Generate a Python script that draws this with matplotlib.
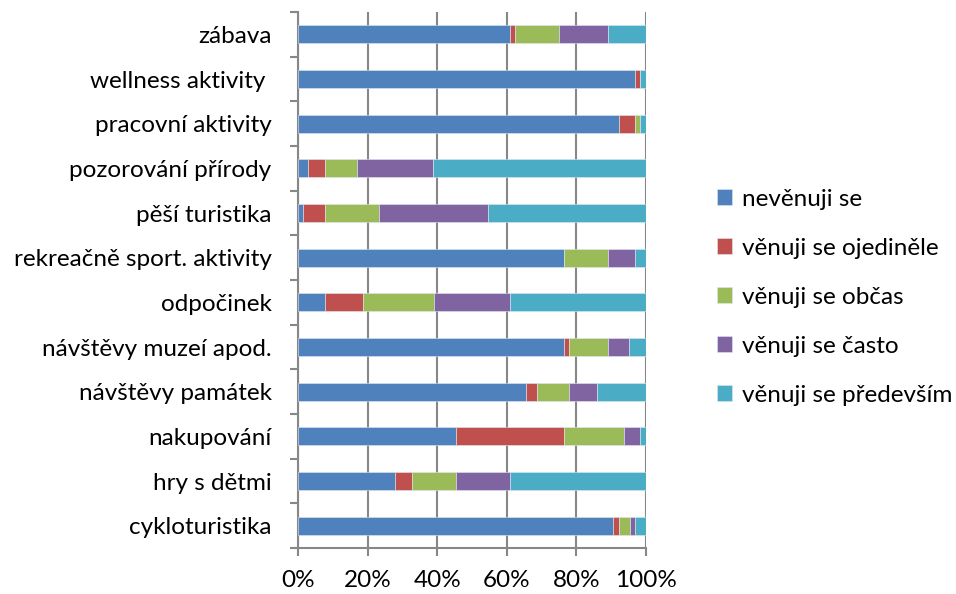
import numpy as np
import matplotlib.pyplot as plt

plt.rcParams['font.family'] = ['Lato', 'DejaVu Sans']

# aktivity (odspodu nahoru)
aktivity = ['cykloturistika', 'hry s dětmi', 'nakupování', 'návštěvy památek',
            'návštěvy muzeí apod.', 'odpočinek', 'rekreačně sport. aktivity',
            'pěší turistika', 'pozorování přírody', 'pracovní aktivity',
            'wellness aktivity ', 'zábava']

kategorie = ['nevěnuji se', 'věnuji se ojediněle', 'věnuji se občas',
             'věnuji se často', 'věnuji se především']

# podíly v % pro jednotlivé kategorie
nevenuji = [90.6, 27.9, 45.3, 65.6, 76.4, 7.8, 76.4, 1.3, 2.9, 92.2, 96.8, 60.9]
ojedinele = [1.6, 4.8, 31.1, 3.1, 1.6, 10.8, 0.0, 6.4, 4.9, 4.6, 1.5, 1.5]
obcas = [3.1, 12.6, 17.4, 9.3, 11.1, 20.4, 12.7, 15.7, 9.3, 1.5, 0.0, 12.6]
casto = [1.6, 15.6, 4.6, 7.9, 6.1, 21.9, 7.8, 31.3, 21.8, 0.0, 0.0, 14.1]
predevsim = [3.1, 39.1, 1.6, 14.1, 4.8, 39.1, 3.1, 45.3, 61.1, 1.7, 1.7, 10.9]

barvy = ['#4F81BD', '#C0504D', '#9BBB59', '#8064A2', '#4BACC6']

fig = plt.figure(figsize=(9.56, 5.94), dpi=100)
ax = fig.add_axes([0.3117, 0.0774, 0.364, 0.9024])

y = np.arange(len(aktivity))
zleva = np.zeros(len(aktivity))
for nazev, hodnoty, barva in zip(kategorie,
                                 [nevenuji, ojedinele, obcas, casto, predevsim],
                                 barvy):
    hodnoty = np.array(hodnoty)
    ax.barh(y, hodnoty, left=zleva, height=0.4, color=barva, label=nazev,
            edgecolor='#dfe6f0', linewidth=0.4, zorder=3)
    zleva += hodnoty

ax.set_xlim(0, 100)
ax.set_ylim(-0.5, len(aktivity) - 0.5)

ax.set_xticks(np.arange(0, 101, 20))
ax.set_xticklabels([f'{v}%' for v in range(0, 101, 20)], fontsize=17.5)
ax.set_yticks(y)
ax.set_yticklabels(aktivity, fontsize=17.5)
ax.set_yticks(np.arange(-0.5, len(aktivity), 1), minor=True)

ax.tick_params(axis='y', which='major', length=0, pad=19)
ax.tick_params(axis='y', which='minor', length=6, color='#878787', width=1.5)
ax.tick_params(axis='x', which='major', length=6, color='#878787', width=1.5, pad=10)

ax.grid(axis='x', color='#878787', linewidth=1.5, zorder=0)
for strana in ['top', 'right']:
    ax.spines[strana].set_visible(False)
for strana in ['left', 'bottom']:
    ax.spines[strana].set_color('#878787')
    ax.spines[strana].set_linewidth(1.5)

ax.legend(loc='center left', bbox_to_anchor=(1.176, 0.468), frameon=False,
          fontsize=17.5, handlelength=0.6, handleheight=0.6, handletextpad=0.45,
          labelspacing=1.15, borderaxespad=0)

plt.savefig('out.png', dpi=100)
